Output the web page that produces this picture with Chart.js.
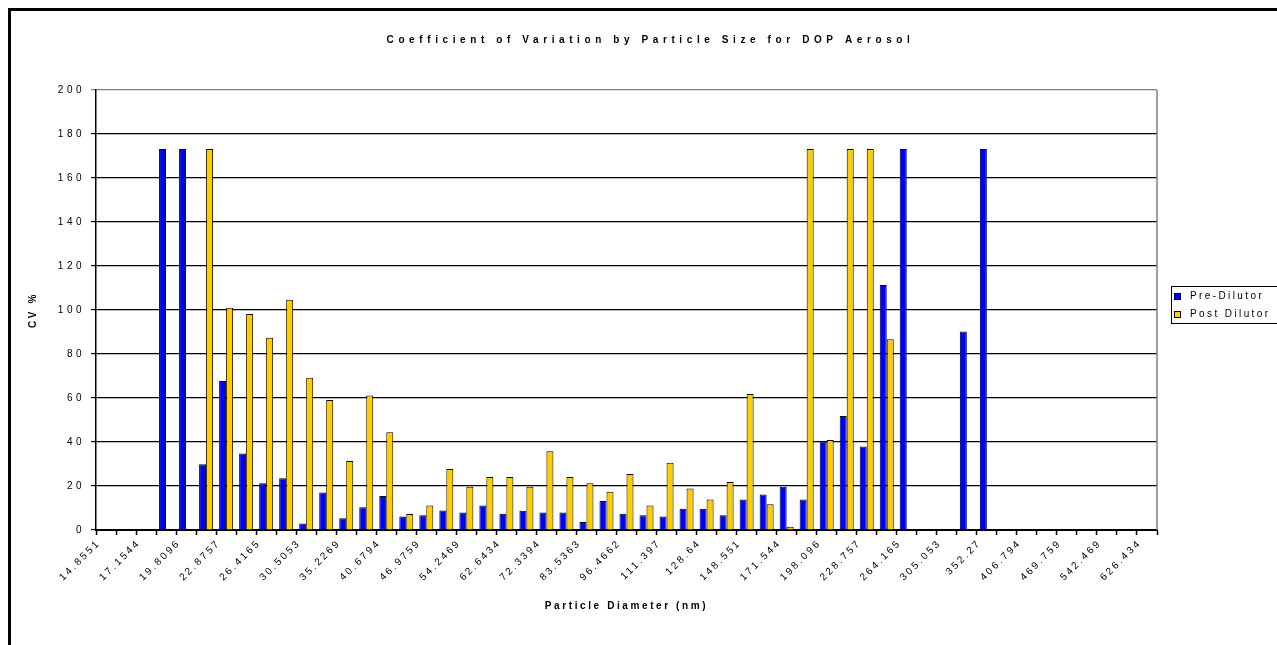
<!DOCTYPE html>
<html>
<head>
<meta charset="utf-8">
<script src="https://cdn.jsdelivr.net/npm/chart.js@4.4.1/dist/chart.umd.min.js"></script>
<style>
  html, body { margin: 0; padding: 0; background: #fff; }
  #wrap { position: relative; width: 1277px; height: 645px; overflow: hidden; }
  #frame { position: absolute; left: 8px; top: 8px; width: 1300px; height: 700px;
           border-left: 3px solid #000; border-top: 3px solid #000; pointer-events: none; }
  canvas { position: absolute; left: 0; top: 0; }
</style>
</head>
<body>
<div id="wrap">
  <canvas id="myChart" width="1277" height="645"></canvas>
  <div id="frame"></div>
</div>
<script>
// particle diameter channels (nm)
const categories = [
  '14.8551', '15.9634', '17.1544', '18.4342', '19.8096', '21.2849', '22.8757', '24.5824',
  '26.4165', '28.3873', '30.5053', '32.7812', '35.2269', '37.8552', '40.6794', '43.7144',
  '46.9759', '50.4806', '54.2469', '58.2942', '62.6434', '67.317', '72.3394', '77.7365',
  '83.5363', '89.7687', '96.4662', '103.663', '111.397', '119.709', '128.64', '138.237',
  '148.551', '159.634', '171.544', '184.342', '198.096', '212.875', '228.757', '245.824',
  '264.165', '283.873', '305.053', '327.812', '352.27', '378.552', '406.794', '437.144',
  '469.759', '504.806', '542.469', '582.942', '626.434'
];

const preDilutor = [
  null, null, null, 173.2, 173.2, 29.9, 67.7, 34.8,
  21.2, 23.5, 3.0, 17.0, 5.3, 10.3, 15.5, 6.1,
  6.7, 8.9, 8.0, 11.1, 7.4, 8.8, 8.0, 8.0,
  3.6, 13.2, 7.4, 6.7, 6.1, 9.7, 9.7, 6.7,
  13.9, 16.1, 19.7, 13.9, 40.2, 51.8, 37.9, 111.4,
  173.2, null, null, 90.2, 173.2, null, null, null,
  null, null, null, null, null
];

const postDilutor = [
  null, null, null, null, null, 173.2, 101.0, 98.2,
  87.4, 104.7, 69.2, 59.1, 31.4, 61.1, 44.4, 7.3,
  11.1, 27.7, 19.7, 24.1, 24.1, 19.7, 35.8, 24.1,
  21.2, 17.4, 25.5, 11.1, 30.6, 18.9, 13.9, 21.8,
  61.8, 11.7, 1.5, 173.2, 40.9, 173.2, 173.2, 86.7,
  null, null, null, null, null, null, null, null,
  null, null, null, null, null
];

const yTicks = [0, 20, 40, 60, 80, 100, 120, 140, 160, 180, 200];

const FONT = 'Liberation Sans, Arial, sans-serif';

// Excel-style spaced out lettering, applied per text element
const spacing = {
  id: 'spacing',
  beforeDraw(chart) {
    if (chart.$spaced) return;
    chart.$spaced = true;
    const ctx = chart.ctx;
    const wrap = (obj, name, px, dx) => {
      const orig = obj[name];
      obj[name] = function (...args) {
        ctx.save();
        ctx.letterSpacing = px;
        if (dx) ctx.translate(dx, 0);
        orig.apply(this, args);
        ctx.restore();
      };
    };
    wrap(chart.titleBlock, 'draw', '4.6px', 72);
    wrap(chart.scales.x, 'drawLabels', '2.5px');
    wrap(chart.scales.x, 'drawTitle', '2.6px');
    wrap(chart.scales.y, 'drawLabels', '3.5px');
    wrap(chart.scales.y, 'drawTitle', '2.6px');
  },
  beforeDatasetsDraw(chart) {
    // grey plot border on the right
    const { ctx, chartArea: a } = chart;
    ctx.save();
    ctx.strokeStyle = '#808080';
    ctx.lineWidth = 1.5;
    ctx.beginPath();
    ctx.moveTo(a.right, a.top);
    ctx.lineTo(a.right, a.bottom);
    ctx.stroke();
    ctx.restore();
  },
  afterDraw(chart) {
    // boxed legend at the right
    const ctx = chart.ctx;
    ctx.save();
    ctx.strokeStyle = '#000';
    ctx.lineWidth = 1;
    ctx.strokeRect(1171.5, 286.5, 106, 37);
    ctx.font = '10px ' + FONT;
    ctx.letterSpacing = '2.4px';
    ctx.textBaseline = 'middle';
    ctx.fillStyle = '#000';
    chart.data.datasets.forEach((ds, i) => {
      const y = 293 + i * 18;
      ctx.fillStyle = ds.backgroundColor;
      ctx.fillRect(1174, y, 7, 7);
      ctx.strokeRect(1174.5, y + 0.5, 6, 6);
      ctx.fillStyle = '#000';
      ctx.fillText(ds.label, 1190, y + 3.5);
    });
    ctx.restore();
  }
};

(function () {
  const ctx = document.querySelector('#myChart');
  new Chart(ctx, {
    type: 'bar',
    data: {
      labels: categories,
      datasets: [
        {
          label: 'Pre-Dilutor',
          data: preDilutor,
          backgroundColor: '#0000FF',
          borderColor: '#000',
          borderWidth: 1,
          barPercentage: 1.0,
          categoryPercentage: 0.7
        },
        {
          label: 'Post Dilutor',
          data: postDilutor,
          backgroundColor: '#FFCC00',
          borderColor: '#000',
          borderWidth: 1,
          barPercentage: 1.0,
          categoryPercentage: 0.7
        }
      ]
    },
    options: {
      responsive: false,
      animation: false,
      devicePixelRatio: 1,
      layout: { padding: { left: 0, right: 120, top: 0, bottom: 0 } },
      plugins: {
        legend: { display: false },
        tooltip: { enabled: false },
        title: {
          display: true,
          text: 'Coefficient of Variation by Particle Size for DOP Aerosol',
          color: '#000',
          font: { family: FONT, size: 10, weight: 'bold', lineHeight: 1.2 },
          padding: { top: 34, bottom: 44 }
        }
      },
      scales: {
        x: {
          grid: {
            offset: true,
            drawOnChartArea: false,
            drawTicks: true,
            tickLength: 5,
            tickColor: '#000',
            tickWidth: 1.5
          },
          border: { color: '#000', width: 2 },
          ticks: {
            autoSkip: false,
            minRotation: 45,
            maxRotation: 45,
            labelOffset: -7,
            padding: 2,
            color: '#000',
            font: { family: FONT, size: 10 },
            callback: (v, i) => (i % 2 === 0 ? categories[i] : '')
          },
          title: {
            display: true,
            text: 'Particle Diameter (nm)',
            color: '#000',
            font: { family: FONT, size: 10, weight: 'bold', lineHeight: 1.2 },
            padding: { top: 0, bottom: 33 }
          },
          afterFit(scale) { scale.height = 115; }
        },
        y: {
          min: 0,
          max: 200,
          afterBuildTicks(scale) { scale.ticks = yTicks.map(v => ({ value: v })); },
          grid: {
            color: c => (c.tick && c.tick.value === 200 ? '#808080' : '#000'),
            lineWidth: 1.2,
            tickLength: 5
          },
          border: { color: '#000', width: 1.5 },
          ticks: {
            padding: 6,
            color: '#000',
            font: { family: FONT, size: 10 }
          },
          title: {
            display: true,
            text: 'CV %',
            color: '#000',
            font: { family: FONT, size: 10, weight: 'bold', lineHeight: 1.2 },
            padding: { top: 27, bottom: 0 }
          },
          afterFit(scale) { scale.width = 96; }
        }
      }
    },
    plugins: [spacing]
  });
})();
</script>
</body>
</html>
